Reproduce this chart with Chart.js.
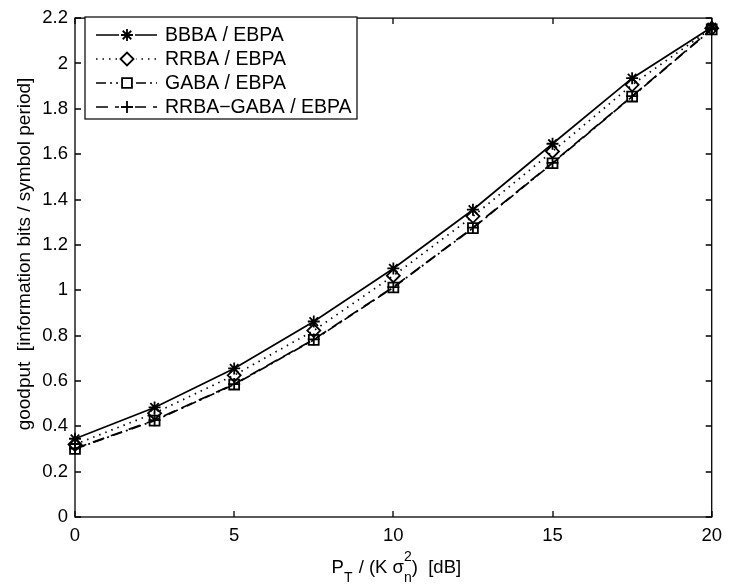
<!DOCTYPE html>
<html>
<head>
<meta charset="utf-8">
<title>goodput vs transmit power</title>
<script src="https://cdn.jsdelivr.net/npm/chart.js@4/dist/chart.umd.min.js"></script>
<style>
  html, body { margin: 0; padding: 0; background: #fff; }
  #wrap { width: 730px; height: 586px; }
</style>
</head>
<body>
<div id="wrap"><canvas id="goodput-chart" width="730" height="586"></canvas></div>
<script>
// P_T / (K sigma_n^2) in dB
const snrDb = [0, 2.5, 5, 7.5, 10, 12.5, 15, 17.5, 20];

// goodput ratios per allocation scheme
const bbbaEbpa = [0.345, 0.483, 0.655, 0.862, 1.096, 1.355, 1.646, 1.935, 2.160];
const rrbaEbpa = [0.320, 0.458, 0.625, 0.822, 1.064, 1.326, 1.612, 1.906, 2.155];
const gabaEbpa = [0.300, 0.425, 0.584, 0.781, 1.012, 1.274, 1.560, 1.854, 2.150];
const rrbaGabaEbpa = [0.302, 0.427, 0.586, 0.783, 1.014, 1.276, 1.562, 1.856, 2.152];

const seriesLabels = ['BBBA / EBPA', 'RRBA / EBPA', 'GABA / EBPA', 'RRBA\u2212GABA / EBPA'];

const xTicks = [0, 5, 10, 15, 20];
const yTicks = [0, 0.2, 0.4, 0.6, 0.8, 1, 1.2, 1.4, 1.6, 1.8, 2, 2.2];

const FONT = '"Liberation Sans", Arial, Helvetica, sans-serif';

const styles = [
  { dash: [], marker: 'star', radius: 6 },
  { dash: [1.5, 5], marker: 'rectRot', radius: 6.5 },
  { dash: [10, 4, 2, 4], marker: 'rect', radius: 7 },
  { dash: [12, 7], marker: 'cross', radius: 6 }
];

function toPoints(ys) {
  return snrDb.map((x, i) => ({ x: x, y: ys[i] }));
}

const datasets = [bbbaEbpa, rrbaEbpa, gabaEbpa, rrbaGabaEbpa].map((ys, i) => ({
  label: seriesLabels[i],
  data: toPoints(ys),
  borderColor: '#000',
  borderWidth: 1.7,
  borderDash: styles[i].dash,
  pointStyle: styles[i].marker,
  pointRadius: styles[i].radius,
  pointHoverRadius: styles[i].radius,
  pointBorderColor: '#000',
  pointBackgroundColor: 'rgba(0,0,0,0)',
  pointBorderWidth: 1.8,
  fill: false,
  tension: 0,
  clip: false
}));

// marker shapes for the legend, same geometry as chart.js point styles
function drawMarker(ctx, style, x, y, r) {
  ctx.beginPath();
  if (style === 'star' || style === 'cross') {
    ctx.moveTo(x - r, y); ctx.lineTo(x + r, y);
    ctx.moveTo(x, y - r); ctx.lineTo(x, y + r);
    if (style === 'star') {
      const d = r * Math.SQRT1_2;
      ctx.moveTo(x - d, y - d); ctx.lineTo(x + d, y + d);
      ctx.moveTo(x - d, y + d); ctx.lineTo(x + d, y - d);
    }
  } else if (style === 'rectRot') {
    ctx.moveTo(x - r, y); ctx.lineTo(x, y - r);
    ctx.lineTo(x + r, y); ctx.lineTo(x, y + r);
    ctx.closePath();
  } else if (style === 'rect') {
    const s = r * Math.SQRT1_2;
    ctx.rect(x - s, y - s, 2 * s, 2 * s);
  }
  ctx.stroke();
}

// box around the plot with inward tick marks on all four sides
const framePlugin = {
  id: 'frame',
  beforeDatasetsDraw(chart) {
    const { ctx, chartArea: { left, right, top, bottom }, scales: { x, y } } = chart;
    const tl = 6;
    ctx.save();
    ctx.strokeStyle = '#000';
    ctx.lineWidth = 1.3;
    ctx.strokeRect(left, top, right - left, bottom - top);
    ctx.beginPath();
    xTicks.forEach(v => {
      const px = Math.round(x.getPixelForValue(v));
      ctx.moveTo(px, bottom); ctx.lineTo(px, bottom - tl);
      ctx.moveTo(px, top); ctx.lineTo(px, top + tl);
    });
    yTicks.forEach(v => {
      const py = Math.round(y.getPixelForValue(v));
      ctx.moveTo(left, py); ctx.lineTo(left + tl, py);
      ctx.moveTo(right, py); ctx.lineTo(right - tl, py);
    });
    ctx.stroke();
    ctx.restore();
  },
  afterDraw(chart) {
    const { ctx, chartArea: { left, right } } = chart;
    ctx.save();

    // legend box in the upper left corner
    const box = { x: 85, y: 17, w: 272, h: 102 };
    ctx.fillStyle = '#fff';
    ctx.fillRect(box.x, box.y, box.w, box.h);
    ctx.strokeStyle = '#000';
    ctx.lineWidth = 1.2;
    ctx.strokeRect(box.x, box.y, box.w, box.h);
    ctx.font = '19.5px ' + FONT;
    ctx.fillStyle = '#000';
    ctx.textBaseline = 'middle';
    ctx.textAlign = 'left';
    seriesLabels.forEach((label, i) => {
      const ry = 35 + i * 24;
      ctx.lineWidth = 1.7;
      ctx.setLineDash(styles[i].dash);
      ctx.beginPath();
      ctx.moveTo(96, ry); ctx.lineTo(157, ry);
      ctx.stroke();
      ctx.setLineDash([]);
      ctx.fillStyle = '#fff';
      if (styles[i].marker !== 'cross' && styles[i].marker !== 'star') {
        ctx.fillRect(118, ry - 7, 18, 14);
      } else {
        ctx.fillRect(119, ry - 7, 16, 14);
      }
      ctx.fillStyle = '#000';
      ctx.lineWidth = 1.8;
      drawMarker(ctx, styles[i].marker, 127, ry, styles[i].radius);
      ctx.fillText(label, 165, ry + 1);
    });

    // y axis title
    ctx.save();
    ctx.translate(25, 254);
    ctx.rotate(-Math.PI / 2);
    ctx.textAlign = 'center';
    ctx.textBaseline = 'middle';
    ctx.font = '19px ' + FONT;
    ctx.fillText('goodput  [information bits / symbol period]', 0, 0);
    ctx.restore();

    // x axis title: P_T / (K sigma_n^2)  [dB]
    const big = '18.5px ' + FONT;
    const small = '14px ' + FONT;
    const base = 573;
    const parts = [
      { t: 'P', f: big, dy: 0 },
      { t: 'T', f: small, dy: 9 },
      { t: ' / (K ', f: big, dy: 0 },
      { t: '\u03c3', f: big, dy: 0 },
      { t: 'n', f: small, dy: 9, sup: '2' },
      { t: ')  [dB]', f: big, dy: 0 }
    ];
    ctx.textAlign = 'left';
    ctx.textBaseline = 'alphabetic';
    let total = 0;
    parts.forEach(p => { ctx.font = p.f; p.w = ctx.measureText(p.t).width + (p.t === 'T' ? 1 : 0); total += p.w; });
    let cx = (left + right) / 2 - total / 2 + 3;
    parts.forEach(p => {
      ctx.font = p.f;
      ctx.fillText(p.t, cx, base + p.dy);
      if (p.sup) ctx.fillText(p.sup, cx, base - 12);
      cx += p.w;
    });

    ctx.restore();
  }
};

new Chart(document.getElementById('goodput-chart'), {
  type: 'line',
  data: { datasets: datasets },
  options: {
    responsive: false,
    animation: false,
    devicePixelRatio: 1,
    layout: { padding: { top: 8, right: 11, left: 0, bottom: 0 }, autoPadding: false },
    plugins: { legend: { display: false }, tooltip: { enabled: false } },
    scales: {
      x: {
        type: 'linear',
        min: 0,
        max: 20,
        afterBuildTicks: s => { s.ticks = xTicks.map(v => ({ value: v })); },
        afterFit: s => { s.height = 69; },
        grid: { display: false, drawTicks: false },
        border: { display: false },
        ticks: { color: '#000', padding: 8, maxRotation: 0, autoSkip: false,
                 font: { family: FONT, size: 18.5 } }
      },
      y: {
        type: 'linear',
        min: 0,
        max: 2.2,
        afterBuildTicks: s => { s.ticks = yTicks.map(v => ({ value: v })); },
        afterFit: s => { s.width = 75; },
        grid: { display: false, drawTicks: false },
        border: { display: false },
        ticks: { color: '#000', padding: 7, autoSkip: false,
                 font: { family: FONT, size: 18.5 },
                 callback: v => String(parseFloat(v.toFixed(1))) }
      }
    }
  },
  plugins: [framePlugin]
});
</script>
</body>
</html>
